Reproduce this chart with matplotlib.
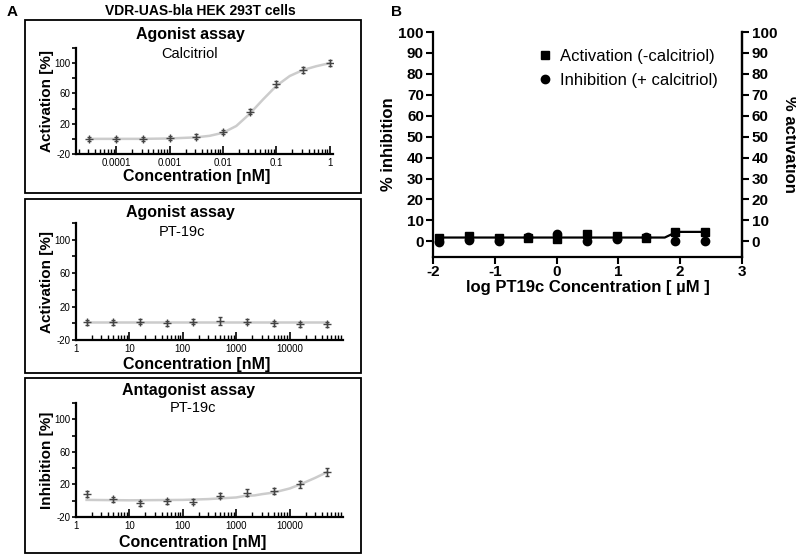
import matplotlib as mpl
mpl.use('Agg')

import matplotlib.pyplot as plt
import matplotlib.ticker as ticker
from matplotlib.patches import Rectangle
import numpy as np

plt.rcParams['font.family'] = ['Liberation Sans', 'DejaVu Sans']
plt.rcParams['axes.unicode_minus'] = False

# Panel A data (concentrations in nM)
calcitriol_conc = [10**-4.5, 1e-4, 10**-3.5, 1e-3, 10**-2.5, 1e-2, 10**-1.5, 0.1, 10**-0.5, 1.0]
calcitriol_act = [0, 0, 0, 1, 3, 9, 36, 72, 91, 100]
calcitriol_err = [3, 3, 3, 3, 3, 3, 3, 4, 4, 4]
calcitriol_fit_x = [10**-4.5, 1e-4, 10**-3.5, 1e-3, 10**-2.5, 10**-2.25, 1e-2, 10**-1.75,
                    10**-1.5, 10**-1.25, 0.1, 10**-0.75, 10**-0.5, 10**-0.25, 1.0]
calcitriol_fit_y = [0, 0, 0, 0.5, 2, 4, 8, 17, 33, 52, 70, 83, 91, 96, 100]

pt_conc = [1.58, 5, 15.8, 50, 158, 500, 1581, 5000, 15811, 50000]
pt_act = [1, 1, 2, 0, 2, 3, 2, 0, -1, -1]
pt_act_err = [3, 3, 3, 3, 3, 5, 3, 3, 3, 3]
pt_act_fit_x = [1.58, 50000]
pt_act_fit_y = [1, 1]

pt_inh = [8, 1.5, -3, -0.5, -1, 6, 10, 12, 20, 35]
pt_inh_err = [4, 3, 3, 3, 3, 3, 4, 4, 4, 5]
pt_inh_fit_x = [1.58, 10, 100, 300, 1000, 1500, 2200, 3000, 5000, 10000, 15811, 30000, 50000]
pt_inh_fit_y = [1, 0.5, 1, 2, 4, 6, 6.5, 8, 10, 15, 20, 28, 35]

# Panel B data (log uM)
log_conc = [-1.9, -1.42, -0.94, -0.46, 0.01, 0.49, 0.97, 1.44, 1.92, 2.4]
activation = [1.8, 2.4, 1.8, 1.8, 1.2, 3.7, 2.3, 1.8, 4.6, 4.6]
inhibition = [-0.5, 0.8, 0, 2, 3.5, 0.3, 1, 2, 0.3, 0]
fit_x = [-1.9, 1.75, 1.85, 1.95, 2.4]
fit_y = [1.8, 1.8, 3.2, 4.5, 4.5]

W, H = 796, 557
fig = plt.figure(figsize=(W / 100, H / 100), dpi=100)

def px_ax(left, top, right, bottom):
    return fig.add_axes([left / W, 1 - bottom / H, (right - left) / W, (bottom - top) / H])

def ftext(x, y, s, **kw):
    fig.text(x / W, 1 - y / H, s, ha='center', va='center', **kw)

curve_color = '#cccccc'
point_color = '#444444'

def dose_panel(ax, x, y, err, fx, fy, xlim, ylabel):
    ax.plot(fx, fy, color=curve_color, lw=1.8, zorder=1)
    ax.errorbar(x, y, yerr=err, fmt='+', ms=6, color=point_color, ecolor=point_color,
                elinewidth=0.9, capsize=1.5, mew=1.0, zorder=2)
    ax.set_xscale('log')
    ax.set_xlim(*xlim)
    ax.set_ylim(-20, 120)
    ax.set_yticks(np.arange(-20, 121, 20))
    ax.set_yticklabels(['-20', '', '20', '', '60', '', '100', ''])
    for s in ['top', 'right']:
        ax.spines[s].set_visible(False)
    for s in ['left', 'bottom']:
        ax.spines[s].set_linewidth(1.6)
    ax.xaxis.set_minor_formatter(ticker.NullFormatter())
    ax.xaxis.set_minor_locator(ticker.LogLocator(base=10, subs=np.arange(2, 10)))
    ax.tick_params(axis='x', which='major', direction='in', length=6, width=1.2, labelsize=7, pad=3)
    ax.tick_params(axis='x', which='minor', direction='in', length=3.5, width=1.0)
    ax.tick_params(axis='y', direction='out', length=3, width=1.2, labelsize=7, pad=1)
    ax.set_ylabel(ylabel, fontsize=11, fontweight='bold', labelpad=0)
    ax.patch.set_alpha(0)

# Panel A
ftext(12, 12, 'A', fontsize=11, fontweight='bold')
ftext(200, 11, 'VDR-UAS-bla HEK 293T cells', fontsize=10, fontweight='bold')

for top, bottom in [(20, 193), (199, 373), (378, 553)]:
    fig.patches.append(Rectangle((25 / W, 1 - bottom / H), 336 / W, (bottom - top) / H,
                                 transform=fig.transFigure, fill=False, lw=1.3, ec='black'))

ax1 = px_ax(76, 48, 333, 154)
dose_panel(ax1, calcitriol_conc, calcitriol_act, calcitriol_err,
           calcitriol_fit_x, calcitriol_fit_y, (10**-4.75, 10**0.06), 'Activation [%]')
ax1.set_xticks([1e-4, 1e-3, 1e-2, 0.1, 1])
ax1.set_xticklabels(['0.0001', '0.001', '0.01', '0.1', '1'])
ftext(190, 35, 'Agonist assay', fontsize=11.5, fontweight='bold')
ftext(190, 54, 'Calcitriol', fontsize=10.5)
ftext(197, 177, 'Concentration [nM]', fontsize=11.5, fontweight='bold')

ax2 = px_ax(76, 223, 343, 340)
dose_panel(ax2, pt_conc, pt_act, pt_act_err, pt_act_fit_x, pt_act_fit_y,
           (1, 1e5), 'Activation [%]')
ax2.set_xticks([1, 10, 100, 1000, 10000])
ax2.set_xticklabels(['1', '10', '100', '1000', '10000'])
ftext(180, 213, 'Agonist assay', fontsize=11.5, fontweight='bold')
ftext(182, 232, 'PT-19c', fontsize=10.5)
ftext(197, 365, 'Concentration [nM]', fontsize=11.5, fontweight='bold')

ax3 = px_ax(76, 403, 343, 517)
dose_panel(ax3, pt_conc, pt_inh, pt_inh_err, pt_inh_fit_x, pt_inh_fit_y,
           (1, 1e5), 'Inhibition [%]')
ax3.set_xticks([1, 10, 100, 1000, 10000])
ax3.set_xticklabels(['1', '10', '100', '1000', '10000'])
ftext(189, 390, 'Antagonist assay', fontsize=11.5, fontweight='bold')
ftext(193, 408, 'PT-19c', fontsize=10.5)
ftext(193, 542, 'Concentration [nM]', fontsize=11.5, fontweight='bold')

# Panel B
ftext(396, 12, 'B', fontsize=11, fontweight='bold')
axb = px_ax(433, 32, 742, 257)
axb.plot(fit_x, fit_y, color='black', lw=1.6, zorder=1)
axb.plot(log_conc, inhibition, 'o', color='black', ms=6, zorder=2, label='Inhibition (+ calcitriol)')
axb.plot(log_conc, activation, 's', color='black', ms=6, zorder=3, label='Activation (-calcitriol)')
axb.set_xlim(-2, 3)
axb.set_ylim(-7.5, 100)
axb.set_xticks(range(-2, 4))
axb.set_yticks(range(0, 101, 10))
axb.spines['top'].set_visible(False)
for s in ['left', 'bottom', 'right']:
    axb.spines[s].set_linewidth(1.6)
axb.tick_params(axis='both', direction='out', length=5, width=1.5, labelsize=11, pad=1.5)
axb.tick_params(axis='x', pad=0.5)
for lab in axb.get_xticklabels() + axb.get_yticklabels():
    lab.set_fontweight('bold')
axb.set_ylabel('% inhibition', fontsize=12, fontweight='bold', labelpad=2)
axb.set_xlabel('log PT19c Concentration [ \u00b5M ]', fontsize=12, fontweight='bold', labelpad=1)
handles, labels = axb.get_legend_handles_labels()
axb.legend(handles[::-1], labels[::-1], loc='upper right', bbox_to_anchor=(0.97, 0.99),
           frameon=False, fontsize=12, handlelength=0.6, handletextpad=0.6, labelspacing=0.5)

axr = axb.twinx()
axr.set_ylim(-7.5, 100)
axr.set_yticks(range(0, 101, 10))
for s in ['top', 'left', 'bottom']:
    axr.spines[s].set_visible(False)
axr.spines['right'].set_linewidth(1.6)
axr.tick_params(axis='y', direction='out', length=5, width=1.5, labelsize=11, pad=2)
for lab in axr.get_yticklabels():
    lab.set_fontweight('bold')
axr.set_ylabel('% activation', fontsize=12, fontweight='bold', rotation=270, labelpad=14)

fig.savefig('out.png', dpi=100, facecolor='white')
